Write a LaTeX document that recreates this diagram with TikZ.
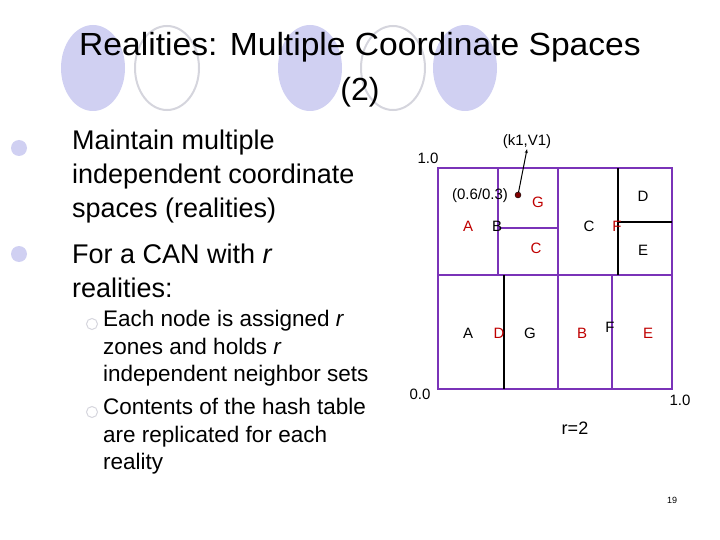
\documentclass[tikz,border=0pt]{standalone}
\usepackage{fontspec}
\setmainfont{Liberation Sans}
\usetikzlibrary{arrows.meta}
\begin{document}
\begin{tikzpicture}[x=1pt,y=-1pt,
  zone/.style={draw=violet!70!blue!80, line width=1.3pt},
  bl/.style={draw=black, line width=1.3pt},
  lab/.style={font=\fontsize{15}{15}\selectfont, inner sep=0pt},
  rl/.style={lab, text=red!75!black},
  circf/.style={fill=blue!15!white!90!gray, draw=none},
  circo/.style={draw=blue!10!gray!30, line width=2pt},
  bt/.style={anchor=west, align=left, inner sep=0pt, font=\fontsize{27}{34}\selectfont},
  st/.style={anchor=west, align=left, inner sep=0pt, font=\fontsize{22.5}{27.5}\selectfont}]
\useasboundingbox (0,0) rectangle (720,540);
\fill[circf] (93,68) ellipse (32 and 43);
\draw[circo] (167,68) ellipse (32 and 42);
\fill[circf] (310,68) ellipse (32 and 43);
\draw[circo] (393,68) ellipse (32 and 42);
\fill[circf] (465,68) ellipse (32 and 43);
\node[inner sep=0pt, font=\fontsize{32}{32}\selectfont, xscale=1.05] (title) at (360,47) {Realities: Multiple Coordinate Spaces};
\node[inner sep=0pt, font=\fontsize{32}{32}\selectfont] (title2) at (360,92) {(2)};
% bullets
\fill[circf] (19,148) circle (8) coordinate (b1);
\fill[circf] (19,254) circle (8) coordinate (b2);
\node[bt, anchor=north west] (t1) at (72,130) {Maintain multiple\\independent coordinate\\spaces (realities)};
\node[bt] (t2) at (72,254) {For a CAN with \textit{r}};
\node[bt] (t3) at (72,288) {realities:};
\draw[circo, line width=1pt] (92,324) circle (5.5);
\draw[circo, line width=1pt] (92,412) circle (5.5);
\node[st, anchor=north west] (s1) at (103,310) {Each node is assigned \textit{r}\\zones and holds \textit{r}\\independent neighbor sets};
\node[st, anchor=north west] (s2) at (103,398) {Contents of the hash table\\are replicated for each\\reality};
% grid
\draw[zone] (438,168) rectangle (672,389);
\draw[zone] (438,275) -- (672,275);
\draw[zone] (558,168) -- (558,389);
\draw[zone] (498,168) -- (498,275);
\draw[zone] (498,228) -- (558,228);
\draw[zone] (612,275) -- (612,389);
\draw[bl] (618,168) -- (618,275);
\draw[bl] (618,222) -- (672,222);
\draw[bl] (504,275) -- (504,389);
\node[rl] (a1) at (468,226) {A};
\node[lab] (b1l) at (497,226) {B};
\node[rl] (g1) at (538,202) {G};
\node[rl] (c1) at (536,248) {C};
\node[lab] (c2) at (589,226) {C};
\node[rl] (f1) at (617,226) {F};
\node[lab] (d1) at (643,196) {D};
\node[lab] (e1) at (643,250) {E};
\node[lab] (a2) at (468,333) {A};
\node[rl] (d2) at (499,333) {D};
\node[lab] (g2) at (530,333) {G};
\node[rl] (b2l) at (582,333) {B};
\node[lab] (f2) at (610,327) {F};
\node[rl] (e2) at (648,333) {E};
\node[lab] (n10) at (428,158) {1.0};
\node[lab] (n00) at (420,394) {0.0};
\node[lab] (n11) at (680,400) {1.0};
\node[lab] (pt) at (480,196) {(0.6/0.3)};
\node[lab] (kv) at (527,142) {(k1,V1)};
\node[circle, fill=red!50!black, draw=black, inner sep=0pt, minimum size=6pt] (dot) at (518,195) {};
\draw[line width=1pt, -{Stealth[length=4pt]}] (dot) -- (kv.south);
\node[lab, font=\fontsize{18}{18}\selectfont] (r2) at (575,428) {r=2};
\node[lab, font=\fontsize{9}{9}\selectfont] (pg) at (672,500) {19};
\end{tikzpicture}
\end{document}
